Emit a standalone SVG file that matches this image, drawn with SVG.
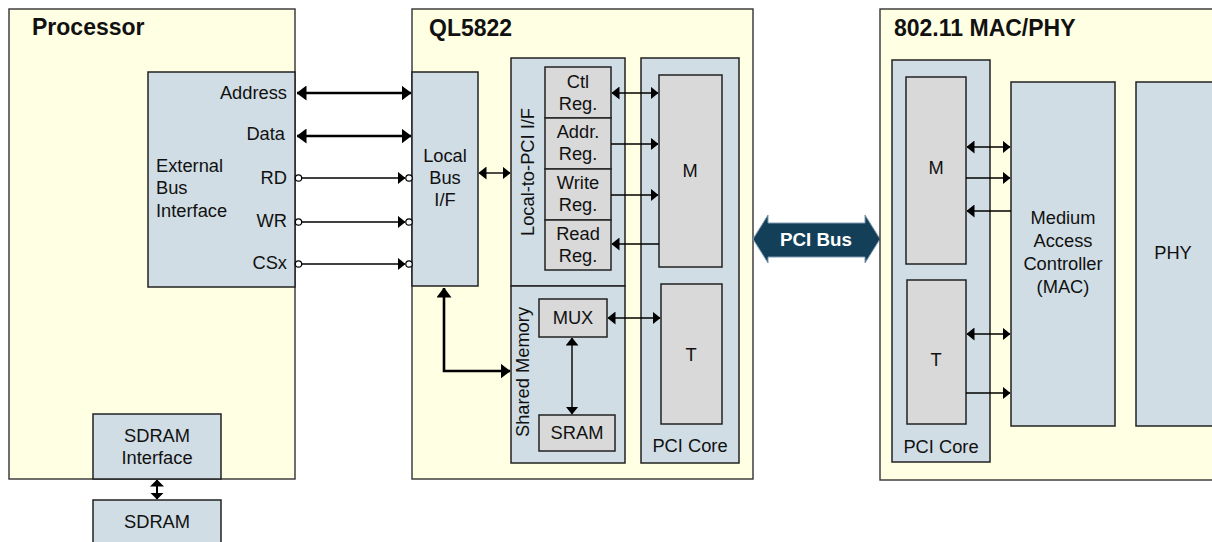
<svg xmlns="http://www.w3.org/2000/svg" width="1212" height="542" viewBox="0 0 1212 542">
<style>
.frame{fill:#FFFFE3;stroke:#333;stroke-width:1.4}
.blue{fill:#D0DDE4;stroke:#222;stroke-width:1.5}
.gray{fill:#D9D9D9;stroke:#222;stroke-width:1.5}
text{font-family:"Liberation Sans",Arial,sans-serif;font-size:18.3px;fill:#111}
.title{font-weight:bold;font-size:23px}
.c{text-anchor:middle}
.r{text-anchor:end}
.thick{stroke:#000;stroke-width:2.6;fill:none}
.thin{stroke:#000;stroke-width:1.4;fill:none}
.dot{fill:#fff;stroke:#000;stroke-width:1.2}
</style>
<defs>
<marker id="ah" markerUnits="userSpaceOnUse" markerWidth="10" markerHeight="15" refX="9.5" refY="7.5" orient="auto-start-reverse"><path d="M0,0 L10,7.5 L0,15 z" fill="#000"/></marker>
<marker id="at" markerUnits="userSpaceOnUse" markerWidth="8" markerHeight="13" refX="7.5" refY="6.5" orient="auto-start-reverse"><path d="M0,0 L8,6.5 L0,13 z" fill="#000"/></marker>
<marker id="as" markerUnits="userSpaceOnUse" markerWidth="7" markerHeight="14" refX="6.5" refY="7" orient="auto-start-reverse"><path d="M0,0 L7,7 L0,14 z" fill="#000"/></marker>
</defs>
<rect width="1212" height="542" fill="#fff"/>

<g id="processor">
<rect class="frame" x="9" y="9" width="286" height="470"/>
<text class="title" x="32" y="35">Processor</text>
</g>
<g id="ebi">
<rect class="blue" x="148" y="72" width="147" height="215"/>
<text x="156" y="172">External</text>
<text x="156" y="194">Bus</text>
<text x="156" y="217">Interface</text>
<text class="r" x="287" y="99">Address</text>
<text class="r" x="285" y="140">Data</text>
<text class="r" x="287" y="184">RD</text>
<text class="r" x="287" y="227">WR</text>
<text class="r" x="287" y="269">CSx</text>
</g>
<g id="sdram-if">
<rect class="blue" x="93" y="414" width="128" height="65"/>
<text class="c" x="157" y="442">SDRAM</text>
<text class="c" x="157" y="464">Interface</text>
</g>
<g id="sdram">
<rect class="blue" x="93" y="500" width="128" height="50"/>
<text class="c" x="157" y="528">SDRAM</text>
</g>

<g id="ql5822">
<rect class="frame" x="412" y="9" width="341" height="470"/>
<text class="title" x="429" y="36">QL5822</text>
</g>
<g id="localbus">
<rect class="blue" x="412" y="72" width="66" height="214"/>
<text class="c" x="445" y="162">Local</text>
<text class="c" x="445" y="184">Bus</text>
<text class="c" x="445" y="206">I/F</text>
</g>
<g id="l2pci">
<rect class="blue" x="511" y="58" width="114" height="228"/>
<text class="c" transform="translate(534,172) rotate(-90)">Local-to-PCI I/F</text>
</g>
<g id="regs">
<rect class="gray" x="545" y="67" width="66" height="51"/>
<text class="c" x="578" y="88">Ctl</text>
<text class="c" x="578" y="110">Reg.</text>
<rect class="gray" x="545" y="118" width="66" height="51"/>
<text class="c" x="578" y="138">Addr.</text>
<text class="c" x="578" y="160">Reg.</text>
<rect class="gray" x="545" y="169" width="66" height="51"/>
<text class="c" x="578" y="189">Write</text>
<text class="c" x="578" y="211">Reg.</text>
<rect class="gray" x="545" y="220" width="66" height="50"/>
<text class="c" x="578" y="240">Read</text>
<text class="c" x="578" y="262">Reg.</text>
</g>
<g id="shared">
<rect class="blue" x="511" y="286" width="114" height="177"/>
<text class="c" transform="translate(529,372) rotate(-90)">Shared Memory</text>
</g>
<g id="mux">
<rect class="gray" x="539" y="299" width="68" height="38"/>
<text class="c" x="573" y="324">MUX</text>
</g>
<g id="sram">
<rect class="gray" x="539" y="415" width="76" height="36"/>
<text class="c" x="577" y="439">SRAM</text>
</g>
<g id="pcicore1">
<rect class="blue" x="641" y="58" width="98" height="405"/>
<text class="c" x="690" y="452">PCI Core</text>
</g>
<g id="m1">
<rect class="gray" x="659" y="75" width="63" height="192"/>
<text class="c" x="690" y="177">M</text>
</g>
<g id="t1">
<rect class="gray" x="661" y="284" width="61" height="140"/>
<text class="c" x="691" y="361">T</text>
</g>

<g id="pcibus">
<path d="M753,239 L768,215 L768,223 L865,223 L865,215 L880,239 L865,263 L865,257 L768,257 L768,263 z" fill="#143F58" stroke="#7d9cb0" stroke-width="1"/>
<text class="c" x="816" y="246" style="font-weight:bold;fill:#fff;font-size:18.8px">PCI Bus</text>
</g>

<g id="mac-phy">
<rect class="frame" x="880" y="9" width="345" height="471"/>
<text class="title" x="894" y="36">802.11 MAC/PHY</text>
</g>
<g id="pcicore2">
<rect class="blue" x="892" y="60" width="98" height="402"/>
<text class="c" x="941" y="453">PCI Core</text>
</g>
<g id="m2">
<rect class="gray" x="906" y="77" width="60" height="187"/>
<text class="c" x="936" y="174">M</text>
</g>
<g id="t2">
<rect class="gray" x="907" y="280" width="59" height="144"/>
<text class="c" x="936" y="366">T</text>
</g>
<g id="mac">
<rect class="blue" x="1011" y="82" width="104" height="344"/>
<text class="c" x="1063" y="224">Medium</text>
<text class="c" x="1063" y="247">Access</text>
<text class="c" x="1063" y="270">Controller</text>
<text class="c" x="1063" y="293">(MAC)</text>
</g>
<g id="phy">
<rect class="blue" x="1136" y="82" width="80" height="344"/>
<text class="c" x="1173" y="259">PHY</text>
</g>

<g id="connectors">
<line class="thick" x1="297" y1="93" x2="411" y2="93" marker-start="url(#ah)" marker-end="url(#ah)"/>
<line class="thick" x1="297" y1="136" x2="411" y2="136" marker-start="url(#ah)" marker-end="url(#ah)"/>
<line class="thin" x1="299" y1="178" x2="405" y2="178" marker-end="url(#at)"/>
<circle class="dot" cx="298.5" cy="178" r="3.2"/>
<circle class="dot" cx="409" cy="178" r="3.2"/>
<line class="thin" x1="299" y1="222" x2="405" y2="222" marker-end="url(#at)"/>
<circle class="dot" cx="298.5" cy="222" r="3.2"/>
<circle class="dot" cx="409" cy="222" r="3.2"/>
<line class="thin" x1="299" y1="264" x2="405" y2="264" marker-end="url(#at)"/>
<circle class="dot" cx="298.5" cy="264" r="3.2"/>
<circle class="dot" cx="409" cy="264" r="3.2"/>
<line class="thin" x1="479" y1="173" x2="510" y2="173" marker-start="url(#at)" marker-end="url(#at)"/>
<path class="thick" d="M444,288 L444,371 L510,371" marker-start="url(#ah)" marker-end="url(#ah)"/>
<line class="thin" x1="612" y1="93" x2="658" y2="93" marker-start="url(#at)" marker-end="url(#at)"/>
<line class="thin" x1="611" y1="144" x2="658" y2="144" marker-end="url(#at)"/>
<line class="thin" x1="611" y1="195" x2="658" y2="195" marker-end="url(#at)"/>
<line class="thin" x1="659" y1="244" x2="612" y2="244" marker-end="url(#at)"/>
<line class="thin" x1="608" y1="318" x2="660" y2="318" marker-start="url(#at)" marker-end="url(#at)"/>
<line class="thin" x1="572" y1="338" x2="572" y2="414" marker-start="url(#at)" marker-end="url(#at)"/>
<line class="thick" x1="157" y1="480" x2="157" y2="499" marker-start="url(#as)" marker-end="url(#as)" style="stroke-width:2"/>
<line class="thin" x1="967" y1="147" x2="1010" y2="147" marker-start="url(#at)" marker-end="url(#at)"/>
<line class="thin" x1="966" y1="178" x2="1010" y2="178" marker-end="url(#at)"/>
<line class="thin" x1="1011" y1="211" x2="967" y2="211" marker-end="url(#at)"/>
<line class="thin" x1="967" y1="334" x2="1010" y2="334" marker-start="url(#at)" marker-end="url(#at)"/>
<line class="thin" x1="966" y1="393" x2="1010" y2="393" marker-end="url(#at)"/>
</g>
</svg>
